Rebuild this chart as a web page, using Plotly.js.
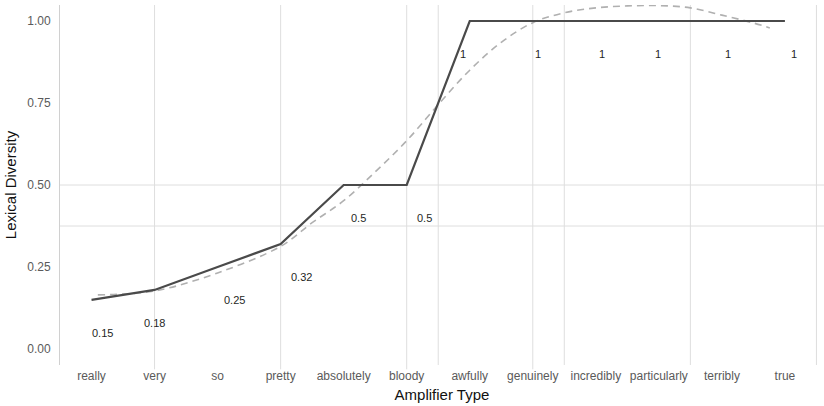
<!DOCTYPE html>
<html>
<head>
<meta charset="utf-8">
<script src="https://cdn.plot.ly/plotly-3.0.1.min.js"></script>
<style>html,body{margin:0;padding:0;background:#fff;}#chart{width:824px;height:406px;}</style>
</head>
<body>
<div id="chart"></div>
<script>
// ---- data ----
var categories = ["really","very","so","pretty","absolutely","bloody","awfully","genuinely","incredibly","particularly","terribly","true"];
var diversity = [0.15, 0.18, 0.25, 0.32, 0.5, 0.5, 1, 1, 1, 1, 1, 1];
var labelText = ["0.15","0.18","0.25","0.32","0.5","0.5","1","1","1","1","1","1"];
// smoothed (loess) trend, sampled along the category axis (index units)
var smoothX = [0.1, 1, 2, 3, 3.5, 4, 4.5, 5, 5.5, 6, 6.5, 7, 7.5, 8, 8.5, 9, 9.5, 10, 10.5, 10.76];
var smoothY = [0.165, 0.177, 0.232, 0.313, 0.385, 0.452, 0.54, 0.635, 0.745, 0.85, 0.935, 0.995, 1.025, 1.04, 1.046, 1.047, 1.04, 1.018, 0.994, 0.979];
var yTicks = [0, 0.25, 0.5, 0.75, 1];
var refLineY = 0.375;

// ---- build ----
var idx = categories.map(function(c, i){ return i; });
// label placement (styling): nudged below the points, horizontal pixel jitter
var labelDrop = 0.1;
var labelShiftPx = [11, 0, 17, 21, 15, 18, -7, 5, 6, -1, 6, 9];

var traces = [
  {x: smoothX, y: smoothY, type: 'scatter', mode: 'lines',
   line: {color: '#b0b0b0', width: 1.6, dash: '7px,5px', shape: 'spline', smoothing: 1},
   hoverinfo: 'skip', showlegend: false},
  {x: idx, y: diversity, type: 'scatter', mode: 'lines',
   line: {color: '#4a4a4a', width: 2.2}, showlegend: false}
];

var annotations = diversity.map(function(v, i){
  return {x: idx[i], y: v - labelDrop, xref: 'x', yref: 'y', text: labelText[i],
          showarrow: false, xshift: labelShiftPx[i],
          font: {family: 'Liberation Sans, Arial, sans-serif', size: 11, color: '#1f1f1f'}};
});

var gridColor = '#dedede';
var shapes = [];
['very','pretty','bloody','genuinely'].forEach(function(c){
  var i = categories.indexOf(c);
  shapes.push({type: 'line', xref: 'x', yref: 'paper', x0: i, x1: i, y0: -0.012, y1: 1,
               line: {color: gridColor, width: 1}, layer: 'below'});
});
[5.5, 7.5, 9.5, 11.5].forEach(function(p){
  shapes.push({type: 'line', xref: 'x', yref: 'paper', x0: p, x1: p, y0: 0, y1: 1,
               line: {color: gridColor, width: 1}, layer: 'below'});
});
[0.5, refLineY].forEach(function(yv){
  shapes.push({type: 'line', xref: 'paper', yref: 'y', x0: 0, x1: 1, y0: yv, y1: yv,
               line: {color: gridColor, width: 1}, layer: 'below'});
});

var font = 'Liberation Sans, Arial, sans-serif';
var layout = {
  width: 824, height: 406,
  margin: {l: 60, r: 0, t: 5, b: 41},
  paper_bgcolor: '#ffffff', plot_bgcolor: '#ffffff',
  showlegend: false,
  font: {family: font, size: 12, color: '#555555'},
  xaxis: {
    range: [-0.5, 11.62], tickvals: idx, ticktext: categories,
    showgrid: false, zeroline: false, showline: false, ticks: '',
    tickfont: {family: font, size: 12, color: '#5a5a5a'},
    ticklabelstandoff: 2,
    title: {text: 'Amplifier Type', font: {family: font, size: 15, color: '#111111'}, standoff: 7}
  },
  yaxis: {
    range: [-0.0488, 1.0488], tickvals: yTicks,
    ticktext: yTicks.map(function(v){ return v.toFixed(2); }),
    showgrid: false, zeroline: false, showline: true, linecolor: '#d0d0d0', linewidth: 1,
    ticks: '', tickfont: {family: font, size: 12, color: '#5a5a5a'},
    ticklabelstandoff: 6,
    title: {text: 'Lexical Diversity', font: {family: font, size: 15, color: '#111111'}, standoff: 6}
  },
  shapes: shapes,
  annotations: annotations
};

Plotly.newPlot('chart', traces, layout, {displayModeBar: false, staticPlot: true});
</script>
</body>
</html>
